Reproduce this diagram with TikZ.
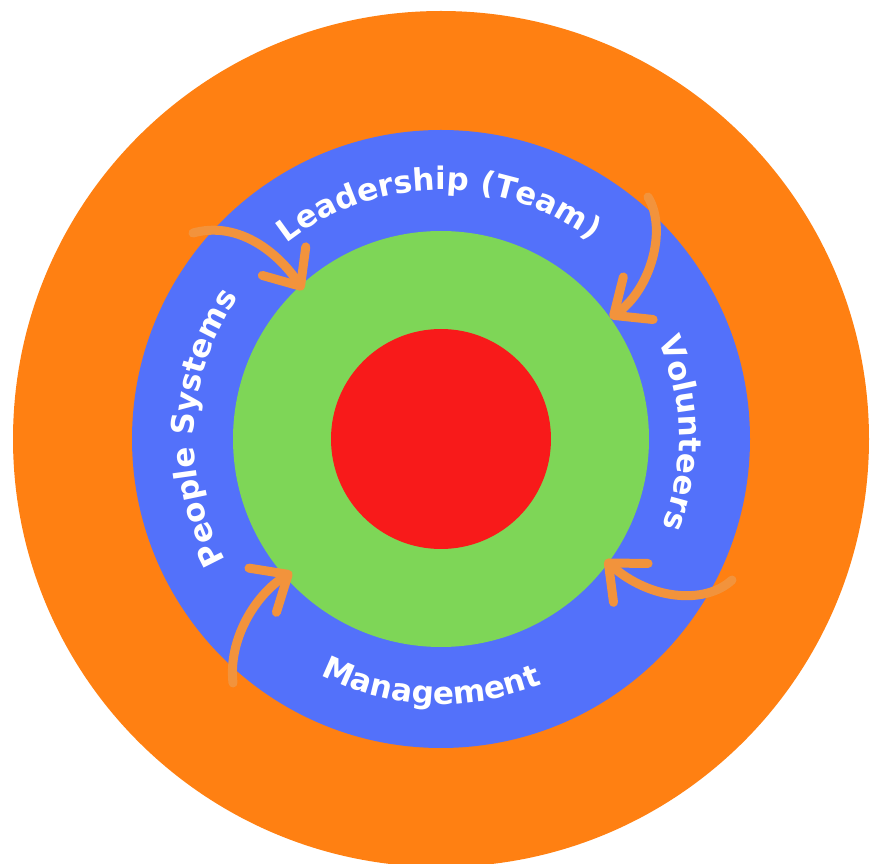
\documentclass[tikz,border=0pt]{standalone}
\usepackage{fontspec}
\newfontfamily\lblfamily{DejaVu Sans}
\usetikzlibrary{decorations.text, arrows.meta}
\definecolor{corange}{HTML}{FF8012}
\definecolor{cblue}{HTML}{5371FA}
\definecolor{cgreen}{HTML}{7ED657}
\definecolor{cred}{HTML}{F81A1A}
\definecolor{carrow}{HTML}{F2933C}
\newcommand{\lbl}{\lblfamily\bfseries\fontsize{31}{31}\selectfont}
\tikzset{
  ring/.style={circle, inner sep=0pt, outer sep=0pt, draw=none},
  curvedarrow/.style={draw=carrow, line width=9pt, line cap=round,
    -{Straight Barb[round, length=30pt, width=52pt, line width=9pt]}},
  ringtext/.style={decorate, decoration={text along path, text align=center, text color=white, text={|\lbl|#1}}}
}
\begin{document}
\begin{tikzpicture}[x=1pt,y=1pt]
\useasboundingbox (0,0) rectangle (871,863);
\coordinate (c) at (441,424);
\node[ring, fill=corange, minimum size=856pt] (outer) at (c) {};
\node[ring, fill=cblue, minimum size=618pt] (blue) at (c) {};
\node[ring, fill=cgreen, minimum size=416pt] (green) at (c) {};
\node[ring, fill=cred, minimum size=220pt] (core) at (c) {};

% curved labels
\path[ringtext={Leadership (Team)}] (c) ++(160.5:249) arc[start angle=160.5, end angle=20.5, radius=249];
\path[ringtext={Volunteers}] (c) ++(71.4:238) arc[start angle=71.4, end angle=-68.6, radius=238];
\path[ringtext={People Systems}] (c) ++(247.2:247) arc[start angle=247.2, end angle=107.2, radius=247];
\path[ringtext={Management}] (c) ++(197.7:265) arc[start angle=197.7, end angle=337.7, radius=265];

% arrows
\coordinate (a1s) at (193,630);
\coordinate (a1e) at (303,573);
\coordinate (a2s) at (648,666);
\coordinate (a2e) at (610,545);
\coordinate (a3s) at (732,283);
\coordinate (a3e) at (605,303);
\coordinate (a4s) at (233,180);
\coordinate (a4e) at (292,291);
\draw[curvedarrow] (a1s) .. controls (240,643) and (280,608) .. (a1e);
\draw[curvedarrow] (a2s) .. controls (668,633) and (650,573) .. (a2e);
\draw[curvedarrow] (a3s) .. controls (705,258) and (650,263) .. (a3e);
\draw[curvedarrow] (a4s) .. controls (228,223) and (255,268) .. (a4e);
\end{tikzpicture}
\end{document}
